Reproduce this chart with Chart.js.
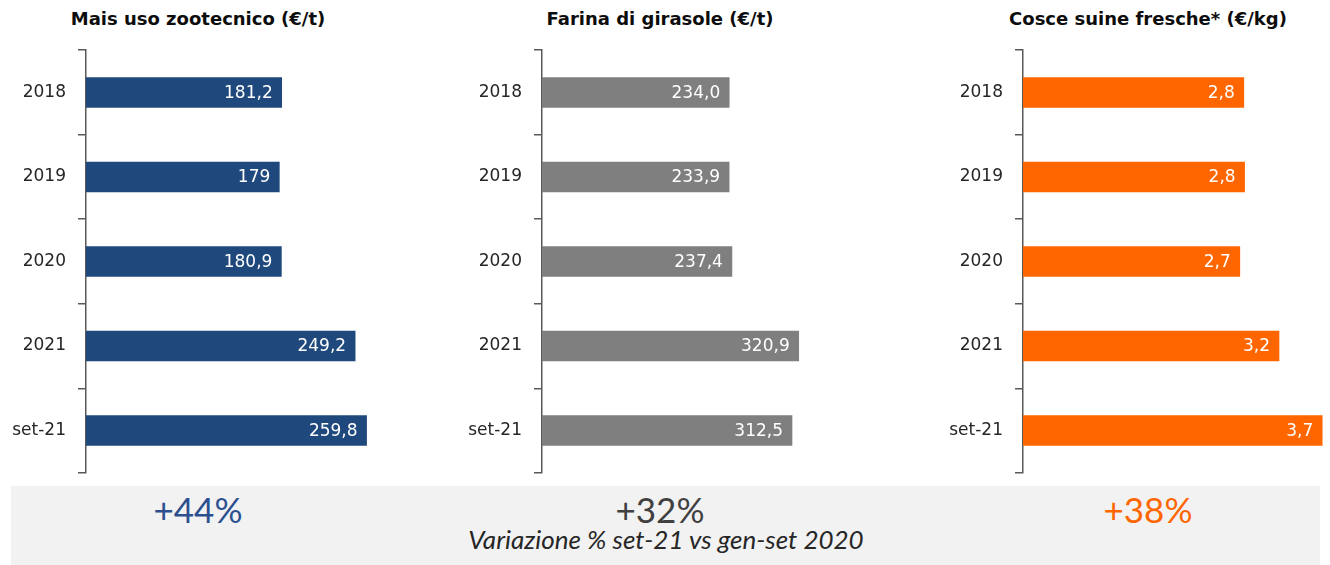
<!DOCTYPE html>
<html>
<head>
<meta charset="utf-8">
<script src="https://cdn.jsdelivr.net/npm/chart.js@4.4.1/dist/chart.umd.min.js"></script>
<style>
  html, body { margin:0; padding:0; background:#fff; }
  body { width:1330px; height:565px; position:relative; overflow:hidden; }
  .panel { position:absolute; top:28px; height:467px; }
  .title { position:absolute; top:5px; width:420px; text-align:center; font-family:"DejaVu Sans", sans-serif; font-weight:bold; font-size:18px; line-height:28px; color:#0d0d0d; white-space:nowrap; }
  .band { position:absolute; left:11px; top:486px; width:1309px; height:79px; background:#F2F2F2; }
  .pct { position:absolute; top:487px; width:300px; text-align:center; font-family:"Lato", sans-serif; font-size:35px; line-height:44px; white-space:nowrap; }
  .sub { position:absolute; top:524px; left:366px; width:600px; text-align:center; font-family:"Lato", sans-serif; font-style:italic; font-size:26px; line-height:30px; color:#262626; white-space:nowrap; }
</style>
</head>
<body>
<div class="band"></div>
<div id="t1" class="title"></div>
<div id="t2" class="title"></div>
<div id="t3" class="title"></div>
<div id="v1" class="pct"></div>
<div id="v2" class="pct"></div>
<div id="v3" class="pct"></div>
<div id="sub" class="sub"></div>
<div class="panel" id="p1" style="left:0px;width:420px;"><canvas id="c1"></canvas></div>
<div class="panel" id="p2" style="left:440px;width:430px;"><canvas id="c2"></canvas></div>
<div class="panel" id="p3" style="left:900px;width:430px;"><canvas id="c3"></canvas></div>
<script>
// ---- data ----
const categories = ['2018', '2019', '2020', '2021', 'set-21'];
const maisValues = [181.2, 179, 180.9, 249.2, 259.8];
const girasoleValues = [234.0, 233.9, 237.4, 320.9, 312.5];
const cosceValues = [2.76, 2.77, 2.71, 3.2, 3.74];
const titles = ['Mais uso zootecnico (€/t)', 'Farina di girasole (€/t)', 'Cosce suine fresche* (€/kg)'];
const variations = ['+44%', '+32%', '+38%'];
const subtitle = 'Variazione % set-21 vs gen-set 2020';

// ---- styling ----
const barColors = ['#1F497D', '#7F7F7F', '#FF6600'];
const pctColors = ['#2C4F8F', '#404040', '#FF6600'];
const titleCenters = [198, 660, 1148];

const barLabels = {
  id: 'barLabels',
  afterDatasetsDraw(chart, args, opts) {
    const ctx = chart.ctx;
    const meta = chart.getDatasetMeta(0);
    const data = chart.data.datasets[0].data;
    ctx.save();
    ctx.fillStyle = '#ffffff';
    ctx.font = '17px "DejaVu Sans"';
    ctx.textAlign = 'right';
    ctx.textBaseline = 'middle';
    meta.data.forEach((el, i) => {
      ctx.fillText(opts.format(data[i]), el.x - 9, el.y + 1);
    });
    ctx.restore();
  }
};

function makeChart(id, values, color, axisW, max, padRight, fmt) {
  return new Chart(document.getElementById(id), {
    type: 'bar',
    data: { labels: categories, datasets: [{ data: values, backgroundColor: color, borderWidth: 0, barThickness: 30 }] },
    options: {
      indexAxis: 'y',
      responsive: true,
      maintainAspectRatio: false,
      animation: false,
      layout: { padding: { top: 0, bottom: 0, right: padRight, left: 0 } },
      plugins: { legend: { display: false }, tooltip: { enabled: false }, title: { display: false }, barLabels: { format: fmt } },
      scales: {
        x: { display: false, min: 0, max: max },
        y: {
          afterFit(scale) { scale.width = axisW; },
          border: { display: true, color: '#595959', width: 1.5 },
          grid: { drawOnChartArea: false, drawTicks: true, tickLength: 8, color: '#595959', lineWidth: 1.5, offset: true },
          ticks: { color: '#262626', font: { family: 'DejaVu Sans', size: 17 }, padding: 12 }
        }
      }
    },
    plugins: [barLabels]
  });
}

const commaFmt = v => String(v).replace('.', ',');
const fixed1 = v => v.toFixed(1).replace('.', ',');

makeChart('c1', maisValues, barColors[0], 86, 300, 10, commaFmt);
makeChart('c2', girasoleValues, barColors[1], 102, 400, 8, fixed1);
makeChart('c3', cosceValues, barColors[2], 123, 3.8, 3, fixed1);

['t1', 't2', 't3'].forEach((id, i) => {
  const el = document.getElementById(id);
  el.textContent = titles[i];
  el.style.left = (titleCenters[i] - 210) + 'px';
});
['v1', 'v2', 'v3'].forEach((id, i) => {
  const el = document.getElementById(id);
  el.textContent = variations[i];
  el.style.color = pctColors[i];
  el.style.left = (titleCenters[i] - 150) + 'px';
});
document.getElementById('sub').textContent = subtitle;
</script>
</body>
</html>
